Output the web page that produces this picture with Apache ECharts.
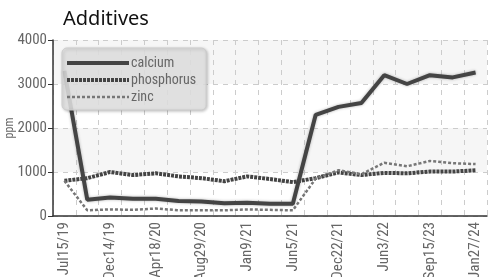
<!DOCTYPE html>
<html>
<head>
<meta charset="utf-8">
<script src="https://cdn.jsdelivr.net/npm/echarts@6/dist/echarts.min.js"></script>
<style>
  html, body { margin: 0; padding: 0; background: #fff; }
  #main { width: 491px; height: 277px; }
</style>
</head>
<body>
<div id="main"></div>
<script>
// sample dates (every other one gets a label)
let dates = ['Jul15/19', 'Sep/19', 'Dec14/19', 'Feb/20', 'Apr18/20', 'Jun/20', 'Aug29/20', 'Oct/20',
  'Jan9/21', 'Mar/21', 'Jun5/21', 'Sep/21', 'Dec22/21', 'Mar/22', 'Jun3/22', 'Jan/23',
  'Sep15/23', 'Nov/23', 'Jan27/24'];

let calcium = [3300, 370, 420, 390, 390, 340, 330, 290, 300, 280, 280, 2300, 2480, 2570, 3200, 3000, 3200, 3150, 3260];
let phosphorus = [800, 860, 1000, 930, 970, 900, 860, 790, 900, 840, 770, 860, 990, 930, 980, 970, 1010, 1010, 1040];
let zinc = [800, 130, 150, 140, 170, 130, 130, 130, 150, 140, 130, 850, 1040, 950, 1210, 1130, 1250, 1200, 1180];

let narrow = '"Roboto Condensed", "Liberation Sans Narrow", "Roboto", sans-serif';

let myChart = echarts.init(document.getElementById('main'));

let option = {
    animation: false,
    title: {
        text: 'Additives',
        left: 58,
        top: 4,
        textStyle: {
            fontFamily: '"Noto Sans", sans-serif',
            fontSize: 20,
            fontWeight: 'normal',
            color: '#111'
        }
    },
    legend: {
        orient: 'vertical',
        left: 62,
        top: 48,
        width: 144,
        padding: [8, 10, 6, 3],
        itemGap: 3,
        itemWidth: 62,
        itemHeight: 14,
        backgroundColor: 'rgba(228,228,228,0.85)',
        borderColor: '#ccc',
        borderWidth: 1,
        borderRadius: 5,
        shadowColor: 'rgba(0,0,0,0.25)',
        shadowBlur: 3,
        shadowOffsetX: 1,
        shadowOffsetY: 1,
        itemStyle: { opacity: 0 },
        textStyle: {
            fontFamily: narrow,
            fontSize: 14,
            color: '#666',
            padding: [0, 0, 0, -3]
        },
        data: [
            { name: 'calcium', lineStyle: { width: 4 } },
            { name: 'phosphorus', lineStyle: { width: 4 } },
            { name: 'zinc', lineStyle: { width: 2.5 } }
        ]
    },
    grid: {
        left: 53,
        right: 4,
        top: 40,
        bottom: 61,
        outerBoundsMode: 'none'
    },
    xAxis: {
        type: 'category',
        boundaryGap: true,
        data: dates,
        axisLine: { lineStyle: { color: '#333', width: 1.5 } },
        axisTick: {
            alignWithLabel: true,
            interval: 0,
            length: 5,
            lineStyle: { color: '#333' }
        },
        axisLabel: {
            interval: 1,
            rotate: 90,
            fontFamily: narrow,
            fontSize: 15,
            color: '#666',
            margin: 6
        },
        splitLine: {
            show: true,
            interval: 0,
            lineStyle: { color: '#ccc', type: [5, 5] }
        }
    },
    yAxis: {
        type: 'value',
        name: 'ppm',
        nameLocation: 'middle',
        nameGap: 37,
        nameMoveOverlap: false,
        nameTextStyle: { fontFamily: narrow, fontSize: 12, color: '#666' },
        min: 0,
        max: 4000,
        interval: 1000,
        axisLine: { show: true, lineStyle: { color: '#333', width: 1.5 } },
        axisTick: { show: true, length: 5, lineStyle: { color: '#333' } },
        axisLabel: {
            fontFamily: narrow,
            fontSize: 15,
            color: '#666',
            margin: 6,
            formatter: function (v) { return String(v); }
        },
        splitLine: { lineStyle: { color: '#ccc', type: [5, 5] } },
        splitArea: { show: true, areaStyle: { color: ['rgba(255,255,255,0)', '#f6f6f6'] } }
    },
    series: [
        {
            name: 'calcium',
            type: 'line',
            symbol: 'none',
            data: calcium,
            color: '#444',
            lineStyle: { width: 4, color: '#444', shadowColor: 'rgba(0,0,0,0.3)', shadowBlur: 3 }
        },
        {
            name: 'phosphorus',
            type: 'line',
            symbol: 'none',
            data: phosphorus,
            color: '#444',
            lineStyle: { width: 4, color: '#444', type: [3, 1] }
        },
        {
            name: 'zinc',
            type: 'line',
            symbol: 'none',
            data: zinc,
            color: '#777',
            lineStyle: { width: 2.5, color: '#777', type: [3, 2] }
        }
    ]
};

myChart.setOption(option);
window.addEventListener('resize', function () {
    myChart.resize();
});
</script>
</body>
</html>
